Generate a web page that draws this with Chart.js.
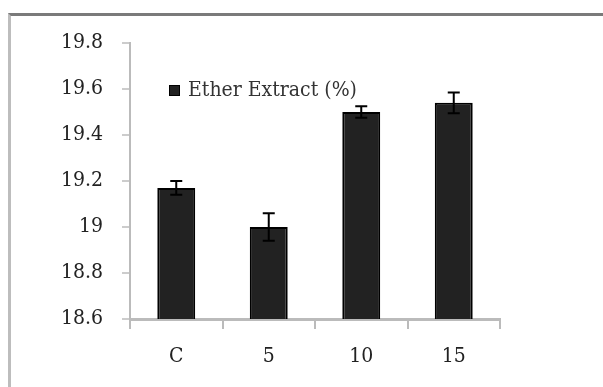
<!DOCTYPE html>
<html>
<head>
<meta charset="utf-8">
<script src="https://cdn.jsdelivr.net/npm/chart.js@4.4.0/dist/chart.umd.min.js"></script>
<style>
  body { margin: 0; background: #fff; overflow: hidden; }
  #wrap { position: relative; width: 603px; height: 387px; overflow: hidden; }
  #frame {
    position: absolute; left: 8px; top: 13px; width: 700px; height: 500px;
    border-top: 3px solid #7a7a7a; border-left: 3px solid #bdbdbd;
  }
  #chart { position: absolute; left: 0; top: 0; }
</style>
</head>
<body>
<div id="wrap">
  <div id="frame"></div>
  <canvas id="chart" width="603" height="387"></canvas>
</div>
<script>
// datos
var categorias = ['C', '5', '10', '15'];
var ether_extract = [19.17, 19.00, 19.50, 19.54];
var errores = [0.03, 0.06, 0.025, 0.045];
var serie_label = 'Ether Extract (%)';

var fuente = "'DejaVu Serif Condensed', 'DejaVu Serif', serif";

// barras de error (solo dibujo, usa las escalas del grafico)
var errorBars = {
  id: 'errorBars',
  afterDatasetsDraw: function(chart) {
    var ctx = chart.ctx;
    var y = chart.scales.y;
    var meta = chart.getDatasetMeta(0);
    ctx.save();
    ctx.strokeStyle = '#000';
    ctx.lineWidth = 2;
    for (var i = 0; i < meta.data.length; i++) {
      var x = meta.data[i].x;
      var top = y.getPixelForValue(ether_extract[i] + errores[i]);
      var bot = y.getPixelForValue(ether_extract[i] - errores[i]);
      ctx.beginPath();
      ctx.moveTo(x, top); ctx.lineTo(x, bot);
      ctx.moveTo(x - 6, top); ctx.lineTo(x + 6, top);
      ctx.moveTo(x - 6, bot); ctx.lineTo(x + 6, bot);
      ctx.stroke();
    }
    ctx.restore();
  }
};

// leyenda dentro del area del grafico
var leyenda = {
  id: 'leyenda',
  afterDraw: function(chart) {
    var ctx = chart.ctx;
    ctx.save();
    ctx.fillStyle = '#222';
    ctx.strokeStyle = '#000';
    ctx.lineWidth = 1;
    ctx.fillRect(169, 85, 11, 11);
    ctx.strokeRect(169.5, 85.5, 10, 10);
    ctx.fillStyle = '#333';
    ctx.font = '21px ' + fuente;
    ctx.textBaseline = 'middle';
    ctx.fillText(chart.data.datasets[0].label, 188, 91);
    ctx.restore();
  }
};

new Chart(document.getElementById('chart'), {
  type: 'bar',
  data: {
    labels: categorias,
    datasets: [{
      label: serie_label,
      data: ether_extract,
      backgroundColor: '#222222',
      borderColor: '#000000',
      borderWidth: 2,
      categoryPercentage: 1.0,
      barPercentage: 0.41
    }]
  },
  options: {
    responsive: false,
    animation: false,
    layout: { padding: { left: 0, right: 103, top: 43, bottom: 0 } },
    plugins: {
      legend: { display: false },
      tooltip: { enabled: false }
    },
    scales: {
      x: {
        offset: true,
        grid: {
          offset: true,
          drawOnChartArea: false,
          tickLength: 10,
          color: '#bbbbbb',
          lineWidth: 2
        },
        border: { color: '#bbbbbb', width: 3 },
        ticks: {
          color: '#222',
          font: { family: fuente, size: 21 },
          padding: 15
        },
        afterFit: function(scale) { scale.height = 68; }
      },
      y: {
        min: 18.6,
        max: 19.8,
        ticks: {
          stepSize: 0.2,
          color: '#222',
          font: { family: fuente, size: 21 },
          padding: 19,
          callback: function(v) { return Math.round(v * 10) / 10; }
        },
        grid: {
          drawOnChartArea: false,
          tickLength: 8,
          color: '#cccccc',
          lineWidth: 2
        },
        border: { color: '#bbbbbb', width: 2 },
        afterFit: function(scale) { scale.width = 130; }
      }
    }
  },
  plugins: [errorBars, leyenda]
});
</script>
</body>
</html>
